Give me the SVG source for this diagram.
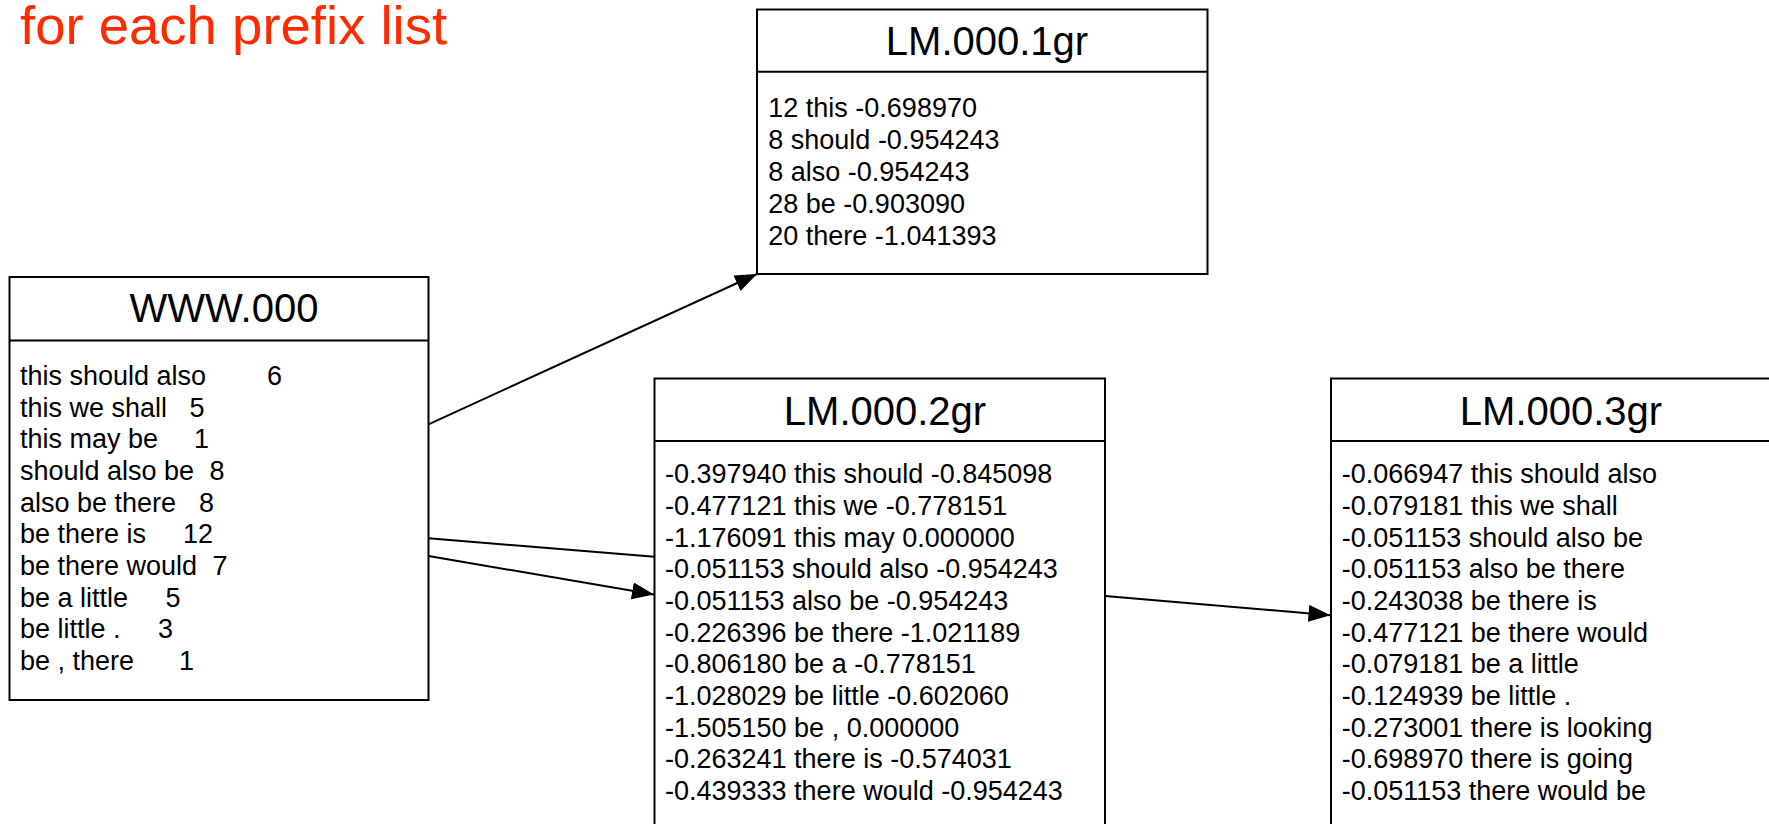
<svg xmlns="http://www.w3.org/2000/svg" width="1769" height="824" viewBox="0 0 1769 824">
<style>
.box{fill:#fff;stroke:#000;stroke-width:2}
.div{stroke:#000;stroke-width:2}
.ttl{font-family:"Liberation Sans",Arial,sans-serif;font-size:40px;fill:#000;text-anchor:middle}
.bd{font-family:"Liberation Sans",Arial,sans-serif;font-size:27px;fill:#000}
.con{stroke:#000;stroke-width:2;fill:none}
.hd{font-family:"Liberation Sans",Arial,sans-serif;font-size:54.5px;fill:#ff2a00}
</style>
<defs>
<marker id="arr" markerUnits="userSpaceOnUse" markerWidth="23" markerHeight="18" refX="22" refY="8.5" orient="auto">
<path d="M0,0 L22,8.5 L0,17 z" fill="#000"/>
</marker>
</defs>
<rect width="1769" height="824" fill="#fff"/>
<text class="hd" x="20" y="44">for each prefix list</text>

<g id="www000">
<rect class="box" x="9.5" y="277" width="419" height="423"/>
<line class="div" x1="9.5" y1="340.5" x2="428.5" y2="340.5"/>
<text class="ttl" x="224" y="322">WWW.000</text>
<text class="bd" x="20" y="385"><tspan>this should also</tspan><tspan x="267">6</tspan></text>
<text class="bd" x="20" y="416.7"><tspan>this we shall</tspan><tspan x="189.5">5</tspan></text>
<text class="bd" x="20" y="448.3"><tspan>this may be</tspan><tspan x="194">1</tspan></text>
<text class="bd" x="20" y="480"><tspan>should also be</tspan><tspan x="209.5">8</tspan></text>
<text class="bd" x="20" y="511.7"><tspan>also be there</tspan><tspan x="199">8</tspan></text>
<text class="bd" x="20" y="543.3"><tspan>be there is</tspan><tspan x="183">12</tspan></text>
<text class="bd" x="20" y="575"><tspan>be there would</tspan><tspan x="212.5">7</tspan></text>
<text class="bd" x="20" y="606.7"><tspan>be a little</tspan><tspan x="165.5">5</tspan></text>
<text class="bd" x="20" y="638.3"><tspan>be little .</tspan><tspan x="158">3</tspan></text>
<text class="bd" x="20" y="670"><tspan>be , there</tspan><tspan x="179">1</tspan></text>
</g>

<g id="lm0001gr">
<rect class="box" x="757" y="9.5" width="450.5" height="264.5"/>
<line class="div" x1="757" y1="71.7" x2="1207.5" y2="71.7"/>
<text class="ttl" x="987" y="55">LM.000.1gr</text>
<text class="bd" x="768.3" y="117.3">12 this -0.698970</text>
<text class="bd" x="768.3" y="149.2">8 should -0.954243</text>
<text class="bd" x="768.3" y="181.1">8 also -0.954243</text>
<text class="bd" x="768.3" y="213">28 be -0.903090</text>
<text class="bd" x="768.3" y="245">20 there -1.041393</text>
</g>

<g id="lm0002gr">
<rect class="box" x="654.5" y="378.5" width="450.5" height="470"/>
<line class="div" x1="654.5" y1="441" x2="1105" y2="441"/>
<text class="ttl" x="885" y="425">LM.000.2gr</text>
<text class="bd" x="665" y="483.3">-0.397940 this should -0.845098</text>
<text class="bd" x="665" y="515">-0.477121 this we -0.778151</text>
<text class="bd" x="665" y="546.6">-1.176091 this may 0.000000</text>
<text class="bd" x="665" y="578.3">-0.051153 should also -0.954243</text>
<text class="bd" x="665" y="610">-0.051153 also be -0.954243</text>
<text class="bd" x="665" y="641.6">-0.226396 be there -1.021189</text>
<text class="bd" x="665" y="673.3">-0.806180 be a -0.778151</text>
<text class="bd" x="665" y="705">-1.028029 be little -0.602060</text>
<text class="bd" x="665" y="736.6">-1.505150 be , 0.000000</text>
<text class="bd" x="665" y="768.3">-0.263241 there is -0.574031</text>
<text class="bd" x="665" y="800">-0.439333 there would -0.954243</text>
</g>

<g id="lm0003gr">
<rect class="box" x="1331" y="378.5" width="450" height="470"/>
<line class="div" x1="1331" y1="441" x2="1781" y2="441"/>
<text class="ttl" x="1561" y="425">LM.000.3gr</text>
<text class="bd" x="1341.7" y="483.3">-0.066947 this should also</text>
<text class="bd" x="1341.7" y="515">-0.079181 this we shall</text>
<text class="bd" x="1341.7" y="546.6">-0.051153 should also be</text>
<text class="bd" x="1341.7" y="578.3">-0.051153 also be there</text>
<text class="bd" x="1341.7" y="610">-0.243038 be there is</text>
<text class="bd" x="1341.7" y="641.6">-0.477121 be there would</text>
<text class="bd" x="1341.7" y="673.3">-0.079181 be a little</text>
<text class="bd" x="1341.7" y="705">-0.124939 be little .</text>
<text class="bd" x="1341.7" y="736.6">-0.273001 there is looking</text>
<text class="bd" x="1341.7" y="768.3">-0.698970 there is going</text>
<text class="bd" x="1341.7" y="800">-0.051153 there would be</text>
</g>

<g id="connectors">
<line class="con" x1="428.5" y1="424.3" x2="757" y2="274" marker-end="url(#arr)"/>
<line class="con" x1="428.5" y1="538.3" x2="654.5" y2="556.7"/>
<line class="con" x1="428.5" y1="556" x2="654" y2="594.5" marker-end="url(#arr)"/>
<line class="con" x1="1105" y1="596" x2="1330.5" y2="615.2" marker-end="url(#arr)"/>
</g>
</svg>
